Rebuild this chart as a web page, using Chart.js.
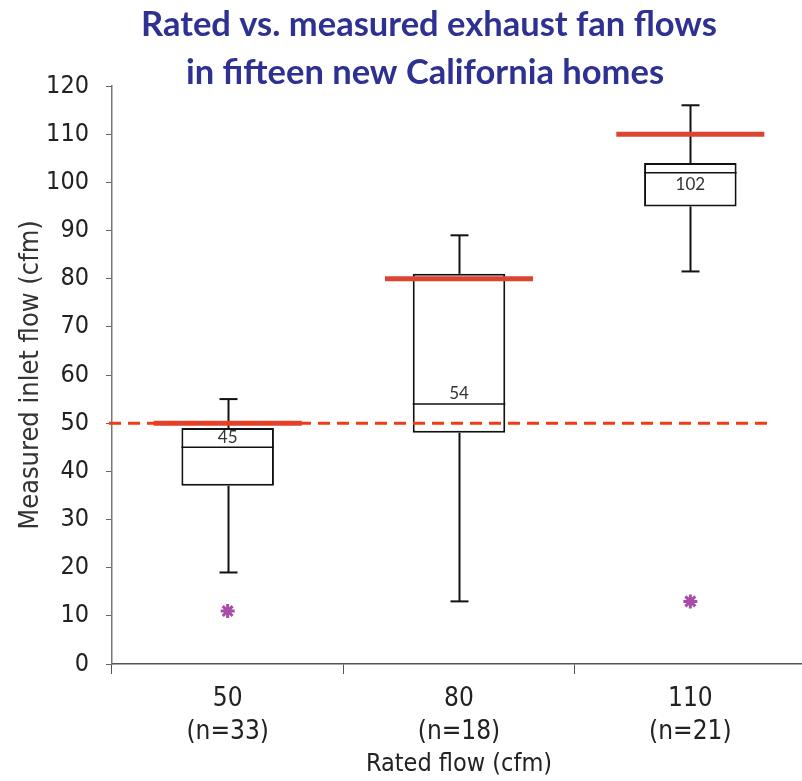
<!DOCTYPE html>
<html>
<head>
<meta charset="utf-8">
<script src="https://cdn.jsdelivr.net/npm/chart.js@4/dist/chart.umd.min.js"></script>
<style>
  html, body { margin: 0; padding: 0; background: #fff; overflow: hidden; }
  #wrap { width: 802px; height: 781px; overflow: hidden; }
</style>
</head>
<body>
<div id="wrap"><canvas id="chart" width="816" height="781"></canvas></div>
<script>
// rated fan flow groups
const categories = ["50", "80", "110"];
const sampleSizes = ["(n=33)", "(n=18)", "(n=21)"];

// box plot stats for measured flow (cfm)
const whiskerLow = [19, 13, 81.5];
const quartile1 = [37, 48, 95];
const medians = [45, 54, 102];
const quartile3 = [49, 81, 104];
const whiskerHigh = [55, 89, 116];
const outliers = [11, null, 13];

// rated flow lines + 50 cfm reference
const ratedFlow = [50, 80, 110];
const referenceFlow = 50;

const titleLines = ["Rated vs. measured exhaust fan flows", "in fifteen new California homes"];

const narrow = "'Liberation Sans Narrow', 'DejaVu Sans Condensed', 'Liberation Sans', sans-serif";

const boxExtras = {
  id: "boxExtras",
  beforeDatasetsDraw(chart) {
    const ctx = chart.ctx;
    const xs = chart.scales.x, ys = chart.scales.y;
    ctx.save();
    ctx.strokeStyle = "#111";
    ctx.lineWidth = 2;
    for (let i = 0; i < categories.length; i++) {
      const cx = Math.round(xs.getPixelForValue(i)) + 0.5;
      const cap = 9;
      const segs = [[whiskerHigh[i], quartile3[i]], [quartile1[i], whiskerLow[i]]];
      segs.forEach(([a, b]) => {
        ctx.beginPath();
        ctx.moveTo(cx, ys.getPixelForValue(a));
        ctx.lineTo(cx, ys.getPixelForValue(b));
        ctx.stroke();
      });
      [whiskerHigh[i], whiskerLow[i]].forEach(v => {
        const py = ys.getPixelForValue(v);
        ctx.beginPath();
        ctx.moveTo(cx - cap, py);
        ctx.lineTo(cx + cap, py);
        ctx.stroke();
      });
    }
    ctx.restore();
  },
  afterDatasetsDraw(chart) {
    const ctx = chart.ctx;
    const xs = chart.scales.x, ys = chart.scales.y;
    const area = chart.chartArea;
    const meta = chart.getDatasetMeta(0);
    ctx.save();
    // medians + labels
    for (let i = 0; i < categories.length; i++) {
      const bar = meta.data[i];
      const half = bar.width / 2;
      const py = ys.getPixelForValue(medians[i]);
      ctx.strokeStyle = "#111";
      ctx.lineWidth = 1.5;
      ctx.beginPath();
      ctx.moveTo(bar.x - half, py);
      ctx.lineTo(bar.x + half, py);
      ctx.stroke();
      const room = py - ys.getPixelForValue(quartile3[i]);
      ctx.fillStyle = "#333";
      ctx.font = "17px Lato, 'Open Sans', sans-serif";
      ctx.textAlign = "center";
      ctx.textBaseline = "middle";
      ctx.fillText(String(medians[i]), bar.x, room > 16 ? py - 10 : py + 12);
    }
    // rated flow bars
    const catW = xs.getPixelForValue(1) - xs.getPixelForValue(0);
    ctx.strokeStyle = "#dc4330";
    ctx.lineWidth = 5;
    for (let i = 0; i < categories.length; i++) {
      const cx = xs.getPixelForValue(i);
      const py = ys.getPixelForValue(ratedFlow[i]);
      ctx.beginPath();
      ctx.moveTo(cx - catW * 0.32, py);
      ctx.lineTo(cx + catW * 0.32, py);
      ctx.stroke();
    }
    // dashed 50 cfm line
    const ry = ys.getPixelForValue(referenceFlow);
    ctx.strokeStyle = "#f23a16";
    ctx.lineWidth = 3;
    ctx.setLineDash([12, 7]);
    ctx.beginPath();
    ctx.moveTo(area.left - 3, ry);
    ctx.lineTo(xs.getPixelForValue(2) + catW * 0.35, ry);
    ctx.stroke();
    ctx.restore();
  },
  afterDraw(chart) {
    const ctx = chart.ctx;
    ctx.save();
    ctx.fillStyle = "#2e3192";
    ctx.font = "bold 34.5px Lato, sans-serif";
    ctx.textAlign = "center";
    ctx.textBaseline = "middle";
    ctx.fillText(titleLines[0], 429, 25);
    ctx.fillText(titleLines[1], 425, 73);
    ctx.restore();
  }
};

new Chart(document.getElementById("chart").getContext("2d"), {
  type: "bar",
  data: {
    labels: categories.map((c, i) => [c, sampleSizes[i]]),
    datasets: [
      {
        label: "IQR",
        data: quartile1.map((q, i) => [q, quartile3[i]]),
        backgroundColor: "#ffffff",
        borderColor: "#111111",
        borderWidth: 2,
        borderSkipped: false,
        barPercentage: 0.4,
        categoryPercentage: 1
      },
      {
        type: "line",
        label: "Outliers",
        data: outliers,
        showLine: false,
        pointStyle: "star",
        pointRadius: 7,
        pointBorderWidth: 3,
        borderColor: "#a84ca8",
        backgroundColor: "#a84ca8"
      }
    ]
  },
  options: {
    responsive: false,
    animation: false,
    layout: { padding: { top: 86, right: 0, left: 0, bottom: 0 } },
    plugins: {
      legend: { display: false },
      tooltip: { enabled: false }
    },
    scales: {
      x: {
        offset: true,
        grid: {
          offset: true,
          drawOnChartArea: false,
          tickLength: 10,
          color: "#555"
        },
        border: { color: "#555", width: 1.5 },
        ticks: {
          color: "#222",
          padding: 8,
          font: { family: narrow, size: 26, lineHeight: 1.3 }
        },
        title: {
          display: true,
          text: "Rated flow (cfm)",
          color: "#222",
          font: { family: narrow, size: 25 },
          padding: { top: 0, bottom: 2 }
        },
        afterFit(s) { s.height = 117; }
      },
      y: {
        min: 0,
        max: 120,
        ticks: {
          stepSize: 10,
          color: "#222",
          padding: 17,
          font: { family: narrow, size: 25 }
        },
        grid: {
          drawOnChartArea: false,
          tickLength: 6,
          color: "#666"
        },
        border: { color: "#777", width: 1.5 },
        title: {
          display: true,
          text: "Measured inlet flow (cfm)",
          color: "#333",
          font: { family: narrow, size: 27 },
          padding: { top: 15, bottom: 0 }
        },
        afterFit(s) { s.width = 112; }
      }
    }
  },
  plugins: [boxExtras]
});
</script>
</body>
</html>
